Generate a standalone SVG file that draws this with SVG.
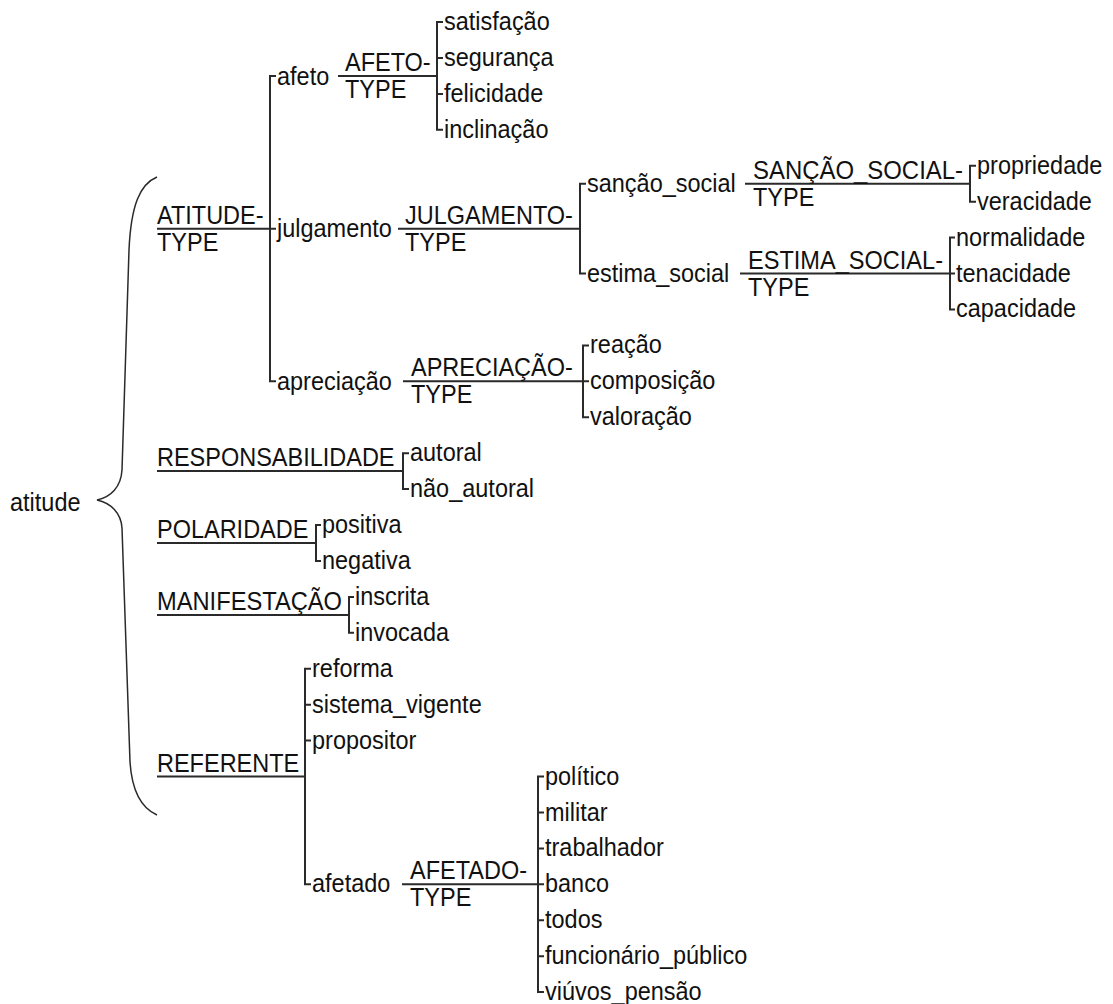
<svg xmlns="http://www.w3.org/2000/svg" width="1113" height="1004" viewBox="0 0 1113 1004">
<style>
.t{font-family:"Liberation Sans",Arial,sans-serif;font-size:23.5px;fill:#111}
.c{fill:none;stroke:#2a2a2a;stroke-width:2}
.b{fill:none;stroke:#2a2a2a;stroke-width:1.5}
</style>
<rect width="1113" height="1004" fill="#fff"/>
<g id="connectors">
<path class="b" d="M157,177 C140,184 131,205 129,250 L122,470 C121,487 111,497 97,500 C111,503 121,513 122,528 L130,762 C132,792 141,808 157,815"/>
<path class="c" d="M157,228.7 H270 M276,76 H270 V381.3 H276 M270,228.7 H276"/>
<path class="c" d="M338,76 H437 M443,22 H437 V129.8 H443 M437,57.9 H443 M437,93.9 H443"/>
<path class="c" d="M398,228.7 H580 M586,183.7 H580 V273.5 H586"/>
<path class="c" d="M745,183.7 H970 M976,165.7 H970 V201.7 H976"/>
<path class="c" d="M740,273.5 H950 M955,237.6 H950 V309.4 H955 M950,273.5 H955"/>
<path class="c" d="M403,381.3 H583 M589,345.4 H583 V417.2 H589 M583,381.3 H589"/>
<path class="c" d="M157,471.1 H403 M409,453.2 H403 V489.1 H409"/>
<path class="c" d="M157,543 H316 M321,525 H316 V561 H321"/>
<path class="c" d="M157,614.9 H349 M354,596.9 H349 V632.8 H354"/>
<path class="c" d="M157,776.5 H305 M311,668.7 H305 V884.3 H311 M305,704.7 H311 M305,740.6 H311"/>
<path class="c" d="M402,884.3 H538 M544,776.5 H538 V992.1 H544 M538,812.5 H544 M538,848.4 H544 M538,884.3 H544 M538,920.3 H544 M538,956.2 H544"/>
</g>
<g id="n-atitude"><text class="t" transform="translate(10,511) scale(1,1.1)">atitude</text></g>
<g id="n-atitude-type"><text class="t" transform="translate(157,223.7) scale(1,1.1)">ATITUDE-</text><text class="t" transform="translate(157,250.7) scale(1,1.1)">TYPE</text></g>
<g id="n-afeto"><text class="t" transform="translate(277,84.5) scale(1,1.1)">afeto</text></g>
<g id="n-julgamento"><text class="t" transform="translate(277,237.2) scale(1,1.1)">julgamento</text></g>
<g id="n-apreciacao"><text class="t" transform="translate(277,389.8) scale(1,1.1)">apreciação</text></g>
<g id="n-afeto-type"><text class="t" transform="translate(345,71) scale(1,1.1)">AFETO-</text><text class="t" transform="translate(345,98) scale(1,1.1)">TYPE</text></g>
<g id="n-satisfacao"><text class="t" transform="translate(444,30) scale(1,1.1)">satisfação</text></g>
<g id="n-seguranca"><text class="t" transform="translate(444,65.9) scale(1,1.1)">segurança</text></g>
<g id="n-felicidade"><text class="t" transform="translate(444,101.9) scale(1,1.1)">felicidade</text></g>
<g id="n-inclinacao"><text class="t" transform="translate(444,137.8) scale(1,1.1)">inclinação</text></g>
<g id="n-julgamento-type"><text class="t" transform="translate(405,223.7) scale(1,1.1)">JULGAMENTO-</text><text class="t" transform="translate(405,250.7) scale(1,1.1)">TYPE</text></g>
<g id="n-sancao-social"><text class="t" transform="translate(587,191.7) scale(1,1.1)">sanção_social</text></g>
<g id="n-estima-social"><text class="t" transform="translate(587,281.5) scale(1,1.1)">estima_social</text></g>
<g id="n-sancao-social-type"><text class="t" transform="translate(753,178.7) scale(1,1.1)" textLength="210" lengthAdjust="spacingAndGlyphs">SANÇÃO_SOCIAL-</text><text class="t" transform="translate(753,205.7) scale(1,1.1)">TYPE</text></g>
<g id="n-propriedade"><text class="t" transform="translate(977,173.7) scale(1,1.1)">propriedade</text></g>
<g id="n-veracidade"><text class="t" transform="translate(977,209.7) scale(1,1.1)">veracidade</text></g>
<g id="n-estima-social-type"><text class="t" transform="translate(748,268.5) scale(1,1.1)" textLength="195" lengthAdjust="spacingAndGlyphs">ESTIMA_SOCIAL-</text><text class="t" transform="translate(748,295.5) scale(1,1.1)">TYPE</text></g>
<g id="n-normalidade"><text class="t" transform="translate(956,245.6) scale(1,1.1)">normalidade</text></g>
<g id="n-tenacidade"><text class="t" transform="translate(956,281.5) scale(1,1.1)">tenacidade</text></g>
<g id="n-capacidade"><text class="t" transform="translate(956,317.4) scale(1,1.1)">capacidade</text></g>
<g id="n-apreciacao-type"><text class="t" transform="translate(411,376.3) scale(1,1.1)">APRECIAÇÃO-</text><text class="t" transform="translate(411,403.3) scale(1,1.1)">TYPE</text></g>
<g id="n-reacao"><text class="t" transform="translate(590,353.4) scale(1,1.1)">reação</text></g>
<g id="n-composicao"><text class="t" transform="translate(590,389.3) scale(1,1.1)">composição</text></g>
<g id="n-valoracao"><text class="t" transform="translate(590,425.2) scale(1,1.1)">valoração</text></g>
<g id="n-responsabilidade"><text class="t" transform="translate(157,466.1) scale(1,1.1)">RESPONSABILIDADE</text></g>
<g id="n-autoral"><text class="t" transform="translate(410,461.2) scale(1,1.1)">autoral</text></g>
<g id="n-nao-autoral"><text class="t" transform="translate(410,497.1) scale(1,1.1)">não_autoral</text></g>
<g id="n-polaridade"><text class="t" transform="translate(157,538) scale(1,1.1)">POLARIDADE</text></g>
<g id="n-positiva"><text class="t" transform="translate(322,533) scale(1,1.1)">positiva</text></g>
<g id="n-negativa"><text class="t" transform="translate(322,569) scale(1,1.1)">negativa</text></g>
<g id="n-manifestacao"><text class="t" transform="translate(157,609.9) scale(1,1.1)" textLength="185" lengthAdjust="spacingAndGlyphs">MANIFESTAÇÃO</text></g>
<g id="n-inscrita"><text class="t" transform="translate(355,604.9) scale(1,1.1)">inscrita</text></g>
<g id="n-invocada"><text class="t" transform="translate(355,640.8) scale(1,1.1)">invocada</text></g>
<g id="n-referente"><text class="t" transform="translate(157,771.5) scale(1,1.1)">REFERENTE</text></g>
<g id="n-reforma"><text class="t" transform="translate(312,676.7) scale(1,1.1)">reforma</text></g>
<g id="n-sistema-vigente"><text class="t" transform="translate(312,712.7) scale(1,1.1)">sistema_vigente</text></g>
<g id="n-propositor"><text class="t" transform="translate(312,748.6) scale(1,1.1)">propositor</text></g>
<g id="n-afetado"><text class="t" transform="translate(312,892.3) scale(1,1.1)">afetado</text></g>
<g id="n-afetado-type"><text class="t" transform="translate(410,879.3) scale(1,1.1)">AFETADO-</text><text class="t" transform="translate(410,906.3) scale(1,1.1)">TYPE</text></g>
<g id="n-politico"><text class="t" transform="translate(545,784.5) scale(1,1.1)">político</text></g>
<g id="n-militar"><text class="t" transform="translate(545,820.5) scale(1,1.1)">militar</text></g>
<g id="n-trabalhador"><text class="t" transform="translate(545,856.4) scale(1,1.1)">trabalhador</text></g>
<g id="n-banco"><text class="t" transform="translate(545,892.3) scale(1,1.1)">banco</text></g>
<g id="n-todos"><text class="t" transform="translate(545,928.3) scale(1,1.1)">todos</text></g>
<g id="n-funcionario-publico"><text class="t" transform="translate(545,964.2) scale(1,1.1)">funcionário_público</text></g>
<g id="n-viuvos-pensao"><text class="t" transform="translate(545,999.6) scale(1,1.1)">viúvos_pensão</text></g>
</svg>
